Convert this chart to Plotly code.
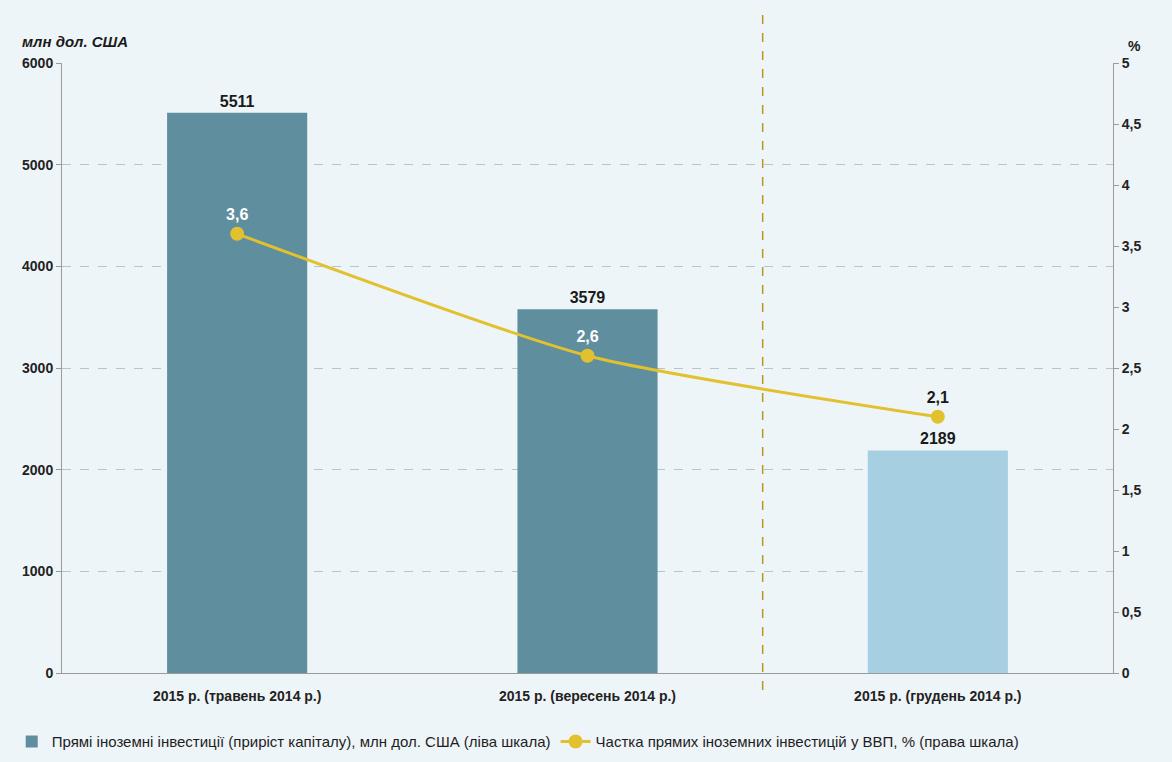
import plotly.graph_objects as go

categories = ["2015 р. (травень 2014 р.)", "2015 р. (вересень 2014 р.)", "2015 р. (грудень 2014 р.)"]
fdi_values = [5511, 3579, 2189]
share_values = [3.6, 2.6, 2.1]
share_labels = ["3,6", "2,6", "2,1"]
left_ticks = [0, 1000, 2000, 3000, 4000, 5000, 6000]
right_ticks = [0, 0.5, 1, 1.5, 2, 2.5, 3, 3.5, 4, 4.5, 5]
right_tick_text = ["0", "0,5", "1", "1,5", "2", "2,5", "3", "3,5", "4", "4,5", "5"]

FONT = "Liberation Sans Narrow, Arial Narrow, Liberation Sans, Arial, sans-serif"
BG = "#eef5f8"

fig = go.Figure()
fig.add_trace(go.Bar(
    x=[0, 1, 2], y=fdi_values,
    marker=dict(color=["#5f8f9e", "#5f8f9e", "#a6d0e1"], line=dict(width=0)),
    width=0.4,
    text=[f"<b>{v}</b>" for v in fdi_values], textposition="outside",
    textfont=dict(family=FONT, size=16, color="#1a1a1a"),
    cliponaxis=False,
    name="Прямі іноземні інвестиції (приріст капіталу), млн дол. США (ліва шкала)",
))
fig.add_trace(go.Scatter(
    x=[0, 1, 2], y=share_values, yaxis="y2",
    mode="lines+markers+text",
    line=dict(color="#e2c12e", width=3, shape="spline", smoothing=0.6),
    marker=dict(color="#e2c12e", size=14),
    text=[f"<b>{s}</b>" for s in share_labels], textposition="top center",
    textfont=dict(family=FONT, size=16, color=["#ffffff", "#ffffff", "#1a1a1a"]),
    cliponaxis=False,
    name="Частка прямих іноземних інвестицій у ВВП, % (права шкала)",
))

fig.add_shape(type="line", xref="x", yref="paper", x0=1.5, x1=1.5, y0=-0.028, y1=1.09,
              line=dict(color="#b59a1e", width=1.5, dash="dash"))

fig.update_layout(
    width=1172, height=762,
    margin=dict(l=62, r=59, t=63, b=89),
    paper_bgcolor=BG, plot_bgcolor=BG,
    font=dict(family=FONT, size=14, color="#1a1a1a"),
    showlegend=True,
    legend=dict(orientation="h", x=0.01, xanchor="left", xref="container",
                y=0.005, yanchor="bottom", yref="container",
                font=dict(family=FONT, size=15, color="#1e1e1e"),
                bgcolor="rgba(0,0,0,0)", traceorder="normal", itemwidth=30),
    xaxis=dict(range=[-0.5, 2.5], tickmode="array", tickvals=[0, 1, 2],
               ticktext=[f"<b>{c}</b>" for c in categories],
               showgrid=False, showline=True, linecolor="#9a9a9a", linewidth=1,
               ticks="", ticklabelstandoff=10,
               tickfont=dict(size=14, color="#222222"), zeroline=False),
    yaxis=dict(range=[0, 6000], tickmode="array", tickvals=left_ticks,
               ticktext=[f"<b>{t}</b>" for t in left_ticks],
               showgrid=True, gridcolor="#b8c4c8", griddash="dash", gridwidth=1,
               showline=True, linecolor="#9a9a9a", linewidth=1, zeroline=False,
               ticks="outside", ticklen=5, tickcolor="#9a9a9a",
               tickfont=dict(size=14, color="#222222")),
    yaxis2=dict(range=[0, 5], overlaying="y", side="right", tickmode="array",
                tickvals=right_ticks, ticktext=[f"<b>{t}</b>" for t in right_tick_text],
                showgrid=False, showline=True, linecolor="#9a9a9a", linewidth=1,
                zeroline=False, ticks="outside", ticklen=5, tickcolor="#9a9a9a",
                tickfont=dict(size=14, color="#222222")),
    annotations=[
        dict(text="<b><i>млн дол. США</i></b>", xref="paper", yref="paper", x=-0.04, y=1.018,
             xanchor="left", yanchor="bottom", showarrow=False,
             font=dict(family=FONT, size=15, color="#1a1a1a")),
        dict(text="<b>%</b>", xref="paper", yref="paper", x=1.012, y=1.012,
             xanchor="left", yanchor="bottom", showarrow=False,
             font=dict(family=FONT, size=14, color="#1a1a1a")),
    ],
)

fig.write_html("out.html")
